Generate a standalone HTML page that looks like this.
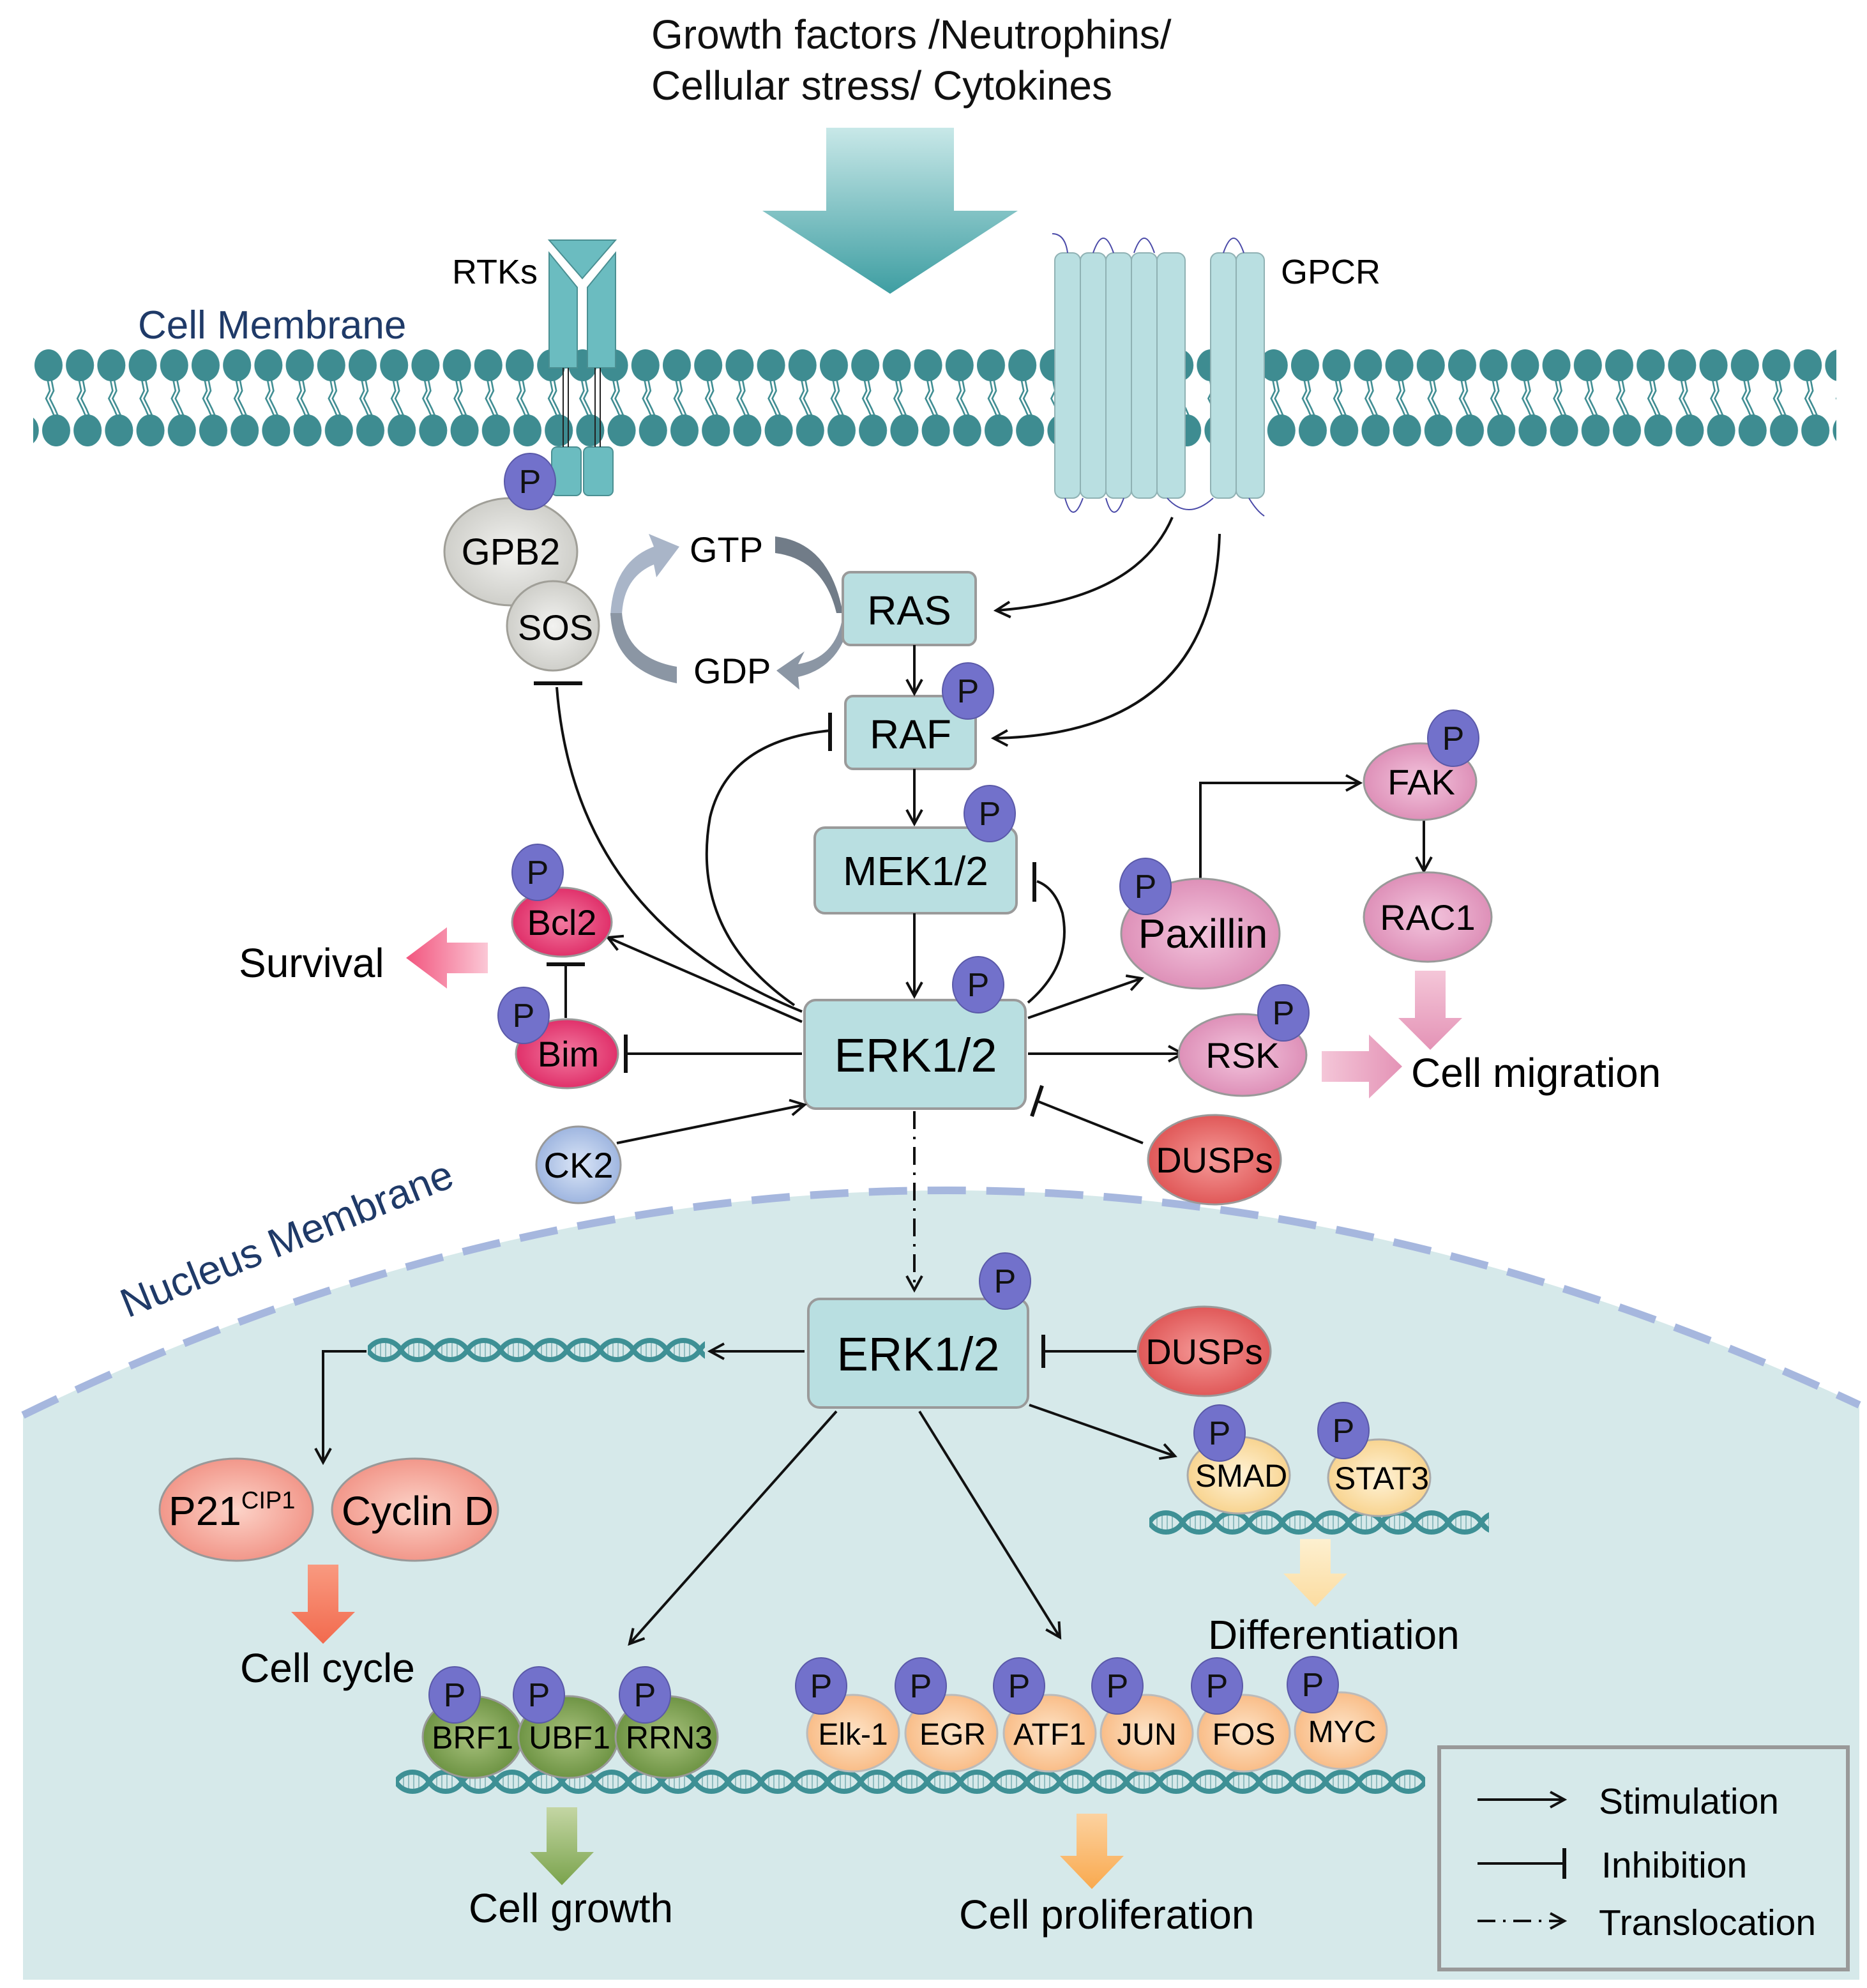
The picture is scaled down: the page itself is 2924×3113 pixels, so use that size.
<!DOCTYPE html>
<html><head><meta charset="utf-8"><style>html,body{margin:0;padding:0;background:#fff}svg{display:block}text{font-family:"Liberation Sans",sans-serif}</style></head>
<body>
<svg width="2924" height="3113" viewBox="0 0 1462 1556.5" xmlns="http://www.w3.org/2000/svg">
<defs>
<pattern id="lip" patternUnits="userSpaceOnUse" x="26" y="272" width="24.6" height="80">
<path d="M11 24 L13 34 L10 40 L14 48 L17 55 M14 24 L16 34 L13 40 L17 48 L20 55" fill="none" stroke="#3e8c91" stroke-width="1.3"/>
<ellipse cx="12" cy="14" rx="11" ry="12.5" fill="#3e8c91"/>
<ellipse cx="18" cy="65" rx="11" ry="12.5" fill="#3e8c91"/>
<ellipse cx="-6.6" cy="65" rx="11" ry="12.5" fill="#3e8c91"/>
</pattern>
<g id="dnaT">
<g stroke="#8fbcbf" stroke-width="1">
<line x1="6" y1="6" x2="6" y2="18"/><line x1="10" y1="5" x2="10" y2="19"/><line x1="14" y1="5" x2="14" y2="19"/><line x1="18" y1="6" x2="18" y2="18"/>
<line x1="32" y1="6" x2="32" y2="18"/><line x1="36" y1="5" x2="36" y2="19"/><line x1="40" y1="5" x2="40" y2="19"/><line x1="44" y1="6" x2="44" y2="18"/>
</g>
<path d="M0 12 C6 2 20 2 26 12 C32 22 46 22 52 12" fill="none" stroke="#3e9095" stroke-width="4"/>
<path d="M0 12 C6 22 20 22 26 12 C32 2 46 2 52 12" fill="none" stroke="#3e9095" stroke-width="4"/>
</g>
<pattern id="dna1" patternUnits="userSpaceOnUse" x="288" y="1045" width="52" height="24"><use href="#dnaT"/></pattern>
<pattern id="dna2" patternUnits="userSpaceOnUse" x="900" y="1180" width="52" height="24"><use href="#dnaT"/></pattern>
<pattern id="dna3" patternUnits="userSpaceOnUse" x="310" y="1383" width="52" height="24"><use href="#dnaT"/></pattern>
<linearGradient id="bigA" x1="0" y1="0" x2="0" y2="1"><stop offset="0" stop-color="#c8e8e8"/><stop offset="1" stop-color="#3e9ea2"/></linearGradient>
<radialGradient id="gray"><stop offset="0" stop-color="#f2f2f0"/><stop offset="1" stop-color="#cfcfca"/></radialGradient>
<radialGradient id="pink"><stop offset="0" stop-color="#f27aa0"/><stop offset="1" stop-color="#e0306a"/></radialGradient>
<radialGradient id="lpink"><stop offset="0" stop-color="#f3c6de"/><stop offset="1" stop-color="#de90b8"/></radialGradient>
<radialGradient id="red"><stop offset="0" stop-color="#f59a98"/><stop offset="1" stop-color="#e05858"/></radialGradient>
<radialGradient id="salm"><stop offset="0" stop-color="#fcd3c8"/><stop offset="1" stop-color="#f2978a"/></radialGradient>
<radialGradient id="yel"><stop offset="0" stop-color="#fff3d8"/><stop offset="1" stop-color="#f8d490"/></radialGradient>
<radialGradient id="peach"><stop offset="0" stop-color="#fde4c8"/><stop offset="1" stop-color="#f9bd88"/></radialGradient>
<radialGradient id="green"><stop offset="0" stop-color="#a9c27e"/><stop offset="1" stop-color="#6e9444"/></radialGradient>
<radialGradient id="blue"><stop offset="0" stop-color="#dbe6f7"/><stop offset="1" stop-color="#9fb6e0"/></radialGradient>
<linearGradient id="pinkA" x1="1" y1="0" x2="0" y2="0"><stop offset="0" stop-color="#fbc8d6"/><stop offset="1" stop-color="#f2557e"/></linearGradient>
<linearGradient id="pinkM" x1="0" y1="0" x2="1" y2="0"><stop offset="0" stop-color="#f4c6d8"/><stop offset="1" stop-color="#e493b6"/></linearGradient>
<linearGradient id="pinkD" x1="0" y1="0" x2="0" y2="1"><stop offset="0" stop-color="#f4c6d8"/><stop offset="1" stop-color="#e493b6"/></linearGradient>
<linearGradient id="oranA" x1="0" y1="0" x2="0" y2="1"><stop offset="0" stop-color="#f99a80"/><stop offset="1" stop-color="#f26a4e"/></linearGradient>
<linearGradient id="yelA" x1="0" y1="0" x2="0" y2="1"><stop offset="0" stop-color="#fdf0d0"/><stop offset="1" stop-color="#fcdca0"/></linearGradient>
<linearGradient id="grnA" x1="0" y1="0" x2="0" y2="1"><stop offset="0" stop-color="#c4d6a4"/><stop offset="1" stop-color="#7aa34c"/></linearGradient>
<linearGradient id="orA" x1="0" y1="0" x2="0" y2="1"><stop offset="0" stop-color="#fcd2a0"/><stop offset="1" stop-color="#f9a94e"/></linearGradient>
<marker id="ar" markerWidth="14" markerHeight="14" refX="12" refY="7" orient="auto" markerUnits="userSpaceOnUse"><path d="M1 1 L12 7 L1 13" fill="none" stroke="#111" stroke-width="2"/></marker>
</defs>

<!-- nucleus -->
<path d="M18 1108 Q730 760 1456 1100 L1456 1550 L18 1550 Z" fill="#d6e9ea"/>
<path d="M18 1108 Q730 760 1456 1100" fill="none" stroke="#a6b7de" stroke-width="6" stroke-dasharray="30 16"/>
<text x="0" y="0" font-size="32" fill="#1f3a68" transform="translate(100 1032) rotate(-22)">Nucleus Membrane</text>

<!-- title -->
<text x="510" y="38" font-size="32" fill="#111">Growth factors /Neutrophins/</text>
<text x="510" y="78" font-size="32" fill="#111">Cellular stress/ Cytokines</text>
<path d="M647 100 H747 V165 H797 L697 230 L597 165 H647 Z" fill="url(#bigA)"/>

<!-- membrane -->
<rect x="26" y="272" width="1412" height="80" fill="url(#lip)"/>
<text x="108" y="265" font-size="31" fill="#1f3a68">Cell Membrane</text>

<!-- RTK -->
<g fill="#6bbcc0" stroke="#4a8f92" stroke-width="1">
<path d="M430 188 H482 L456 218 Z"/>
<path d="M430 198 L452 225 V288 H430 Z"/>
<path d="M482 198 L460 225 V288 H482 Z"/>
<rect x="432" y="350" width="23" height="38" rx="4"/>
<rect x="457" y="350" width="23" height="38" rx="4"/>
</g>
<g stroke="#222" stroke-width="1"><line x1="441" y1="288" x2="441" y2="350"/><line x1="445" y1="288" x2="445" y2="350"/><line x1="466" y1="288" x2="466" y2="350"/><line x1="470" y1="288" x2="470" y2="350"/></g>
<text x="354" y="222" font-size="27">RTKs</text>

<!-- GPCR -->
<g fill="#b9dfe1" stroke="#8fb1b3" stroke-width="1">
<rect x="826" y="198" width="20" height="192" rx="6"/><rect x="846" y="198" width="20" height="192" rx="6"/><rect x="866" y="198" width="20" height="192" rx="6"/><rect x="886" y="198" width="20" height="192" rx="6"/><rect x="906" y="198" width="22" height="192" rx="6"/>
<rect x="948" y="198" width="20" height="192" rx="6"/><rect x="968" y="198" width="22" height="192" rx="6"/>
</g>
<g fill="none" stroke="#4a4aa8" stroke-width="1"><path d="M824 183 Q834 183 836 198"/><path d="M856 198 Q864 175 872 198"/><path d="M888 198 Q896 175 904 198"/><path d="M958 198 Q966 175 974 198"/><path d="M834 390 Q840 412 848 390"/><path d="M866 390 Q872 412 880 390"/><path d="M914 390 Q930 408 950 390"/><path d="M978 390 Q984 400 990 404"/></g>
<text x="1003" y="222" font-size="27">GPCR</text>

<!-- GPB2/SOS -->
<ellipse cx="400" cy="432" rx="52" ry="42" fill="url(#gray)" stroke="#a09f98" stroke-width="1.5"/>
<ellipse cx="433" cy="490" rx="36" ry="35" fill="url(#gray)" stroke="#a09f98" stroke-width="1.5"/>
<text x="400" y="442" font-size="29" text-anchor="middle">GPB2</text>
<text x="435" y="501" font-size="28" text-anchor="middle">SOS</text>

<!-- GTP cycle -->
<path d="M478 482 Q480 440 512 428 L508 418 L532 428 L514 452 L512 442 Q488 452 487 482 Z" fill="#a9b5c8"/>
<path d="M607 420 Q650 425 660 480 L655 480 Q645 438 607 433 Z" fill="#717c88"/>
<path d="M478 480 Q480 525 530 535 L530 522 Q490 515 487 480 Z" fill="#8b96a4"/>
<path d="M660 482 Q655 515 625 520 L630 510 L608 525 L626 540 L625 530 Q660 522 666 482 Z" fill="#8b96a4"/>
<text x="540" y="440" font-size="28">GTP</text>
<text x="543" y="535" font-size="28">GDP</text>

<!-- boxes -->
<g fill="#b9dfe1" stroke="#9a9a9a" stroke-width="2">
<rect x="660" y="448" width="104" height="57" rx="6"/>
<rect x="662" y="545" width="102" height="57" rx="6"/>
<rect x="638" y="648" width="158" height="67" rx="8"/>
<rect x="630" y="783" width="173" height="85" rx="9"/>
<rect x="633" y="1017" width="172" height="85" rx="9"/>
</g>
<text x="712" y="489" font-size="32" text-anchor="middle">RAS</text>
<text x="713" y="586" font-size="32" text-anchor="middle">RAF</text>
<text x="717" y="693" font-size="32" text-anchor="middle">MEK1/2</text>
<text x="717" y="839" font-size="37" text-anchor="middle">ERK1/2</text>
<text x="719" y="1073" font-size="37" text-anchor="middle">ERK1/2</text>

<!-- connectors -->
<g fill="none" stroke="#111" stroke-width="2">
<path d="M918 405 Q890 470 780 478" marker-end="url(#ar)"/>
<path d="M955 418 Q950 575 778 578" marker-end="url(#ar)"/>
<line x1="716" y1="505" x2="716" y2="543" marker-end="url(#ar)"/>
<line x1="716" y1="602" x2="716" y2="645" marker-end="url(#ar)"/>
<line x1="716" y1="715" x2="716" y2="780" marker-end="url(#ar)"/>
<path d="M628 792 Q450 720 436 538"/>
<line x1="418" y1="535" x2="456" y2="535" stroke-width="3"/>
<path d="M622 787 Q540 730 556 640 Q570 580 650 572"/>
<line x1="650" y1="558" x2="650" y2="588" stroke-width="3"/>
<path d="M805 785 Q840 755 832 715 Q826 695 812 690"/>
<line x1="810" y1="675" x2="810" y2="706" stroke-width="3"/>
<line x1="628" y1="800" x2="476" y2="734" marker-end="url(#ar)"/>
<line x1="628" y1="825" x2="490" y2="825"/><line x1="490" y1="810" x2="490" y2="840" stroke-width="3"/>
<line x1="443" y1="797" x2="443" y2="755"/><line x1="428" y1="755" x2="458" y2="755" stroke-width="3"/>
<line x1="483" y1="895" x2="630" y2="865" marker-end="url(#ar)"/>
<line x1="895" y1="895" x2="812" y2="862"/><line x1="816" y1="850" x2="808" y2="874" stroke-width="3"/>
<line x1="805" y1="797" x2="894" y2="766" marker-end="url(#ar)"/>
<path d="M940 688 V613 H1065" marker-end="url(#ar)"/>
<line x1="1115" y1="642" x2="1115" y2="682" marker-end="url(#ar)"/>
<line x1="805" y1="825" x2="926" y2="825" marker-end="url(#ar)"/>
<line x1="716" y1="870" x2="716" y2="1010" stroke-dasharray="14 6 2 6" marker-end="url(#ar)"/>
<line x1="630" y1="1058" x2="556" y2="1058" marker-end="url(#ar)"/>
<path d="M287 1058 H253 V1145" marker-end="url(#ar)"/>
<line x1="890" y1="1058" x2="817" y2="1058"/><line x1="817" y1="1045" x2="817" y2="1071" stroke-width="3"/>
<line x1="806" y1="1100" x2="920" y2="1140" marker-end="url(#ar)"/>
<line x1="655" y1="1105" x2="493" y2="1287" marker-end="url(#ar)"/>
<line x1="720" y1="1105" x2="830" y2="1282" marker-end="url(#ar)"/>
</g>

<!-- cytoplasm nodes -->
<ellipse cx="440" cy="722" rx="39" ry="27" fill="url(#pink)" stroke="#999" stroke-width="1.5"/>
<text x="440" y="732" font-size="28" text-anchor="middle">Bcl2</text>
<ellipse cx="444" cy="825" rx="40" ry="27" fill="url(#pink)" stroke="#999" stroke-width="1.5"/>
<text x="445" y="835" font-size="28" text-anchor="middle">Bim</text>
<path d="M382 738 H350 V726 L318 750 L350 774 V762 H382 Z" fill="url(#pinkA)"/>
<text x="187" y="765" font-size="32">Survival</text>
<ellipse cx="453" cy="912" rx="33" ry="30" fill="url(#blue)" stroke="#999" stroke-width="1.5"/>
<text x="453" y="922" font-size="28" text-anchor="middle">CK2</text>
<ellipse cx="951" cy="908" rx="52" ry="35" fill="url(#red)" stroke="#999" stroke-width="1.5"/>
<text x="951" y="918" font-size="28" text-anchor="middle">DUSPs</text>
<ellipse cx="940" cy="731" rx="62" ry="43" fill="url(#lpink)" stroke="#999" stroke-width="1.5"/>
<text x="942" y="742" font-size="32" text-anchor="middle">Paxillin</text>
<ellipse cx="1112" cy="612" rx="44" ry="30" fill="url(#lpink)" stroke="#999" stroke-width="1.5"/>
<text x="1113" y="622" font-size="28" text-anchor="middle">FAK</text>
<ellipse cx="1118" cy="718" rx="50" ry="35" fill="url(#lpink)" stroke="#999" stroke-width="1.5"/>
<text x="1118" y="728" font-size="28" text-anchor="middle">RAC1</text>
<path d="M1108 760 H1132 V797 H1145 L1120 822 L1095 797 H1108 Z" fill="url(#pinkD)"/>
<ellipse cx="973" cy="826" rx="50" ry="32" fill="url(#lpink)" stroke="#999" stroke-width="1.5"/>
<text x="973" y="836" font-size="28" text-anchor="middle">RSK</text>
<path d="M1035 823 H1072 V810 L1098 835 L1072 860 V847 H1035 Z" fill="url(#pinkM)"/>
<text x="1105" y="851" font-size="32">Cell migration</text>

<!-- nucleus content -->
<rect x="288" y="1045" width="264" height="24" fill="url(#dna1)"/>
<ellipse cx="943" cy="1058" rx="52" ry="35" fill="url(#red)" stroke="#999" stroke-width="1.5"/>
<text x="943" y="1068" font-size="28" text-anchor="middle">DUSPs</text>
<ellipse cx="185" cy="1182" rx="60" ry="40" fill="url(#salm)" stroke="#999" stroke-width="1.5"/>
<text x="132" y="1194" font-size="32">P21<tspan font-size="19" dy="-13">CIP1</tspan></text>
<ellipse cx="325" cy="1182" rx="65" ry="40" fill="url(#salm)" stroke="#999" stroke-width="1.5"/>
<text x="327" y="1194" font-size="32" text-anchor="middle">Cyclin D</text>
<path d="M241 1225 H265 V1262 H278 L253 1287 L228 1262 H241 Z" fill="url(#oranA)"/>
<text x="188" y="1317" font-size="32">Cell cycle</text>

<rect x="900" y="1180" width="266" height="24" fill="url(#dna2)"/>
<ellipse cx="970" cy="1155" rx="40" ry="30" fill="url(#yel)" stroke="#aaa" stroke-width="1.5"/>
<text x="972" y="1164" font-size="25" text-anchor="middle">SMAD</text>
<ellipse cx="1080" cy="1157" rx="40" ry="30" fill="url(#yel)" stroke="#aaa" stroke-width="1.5"/>
<text x="1082" y="1166" font-size="25" text-anchor="middle">STAT3</text>
<path d="M1018 1205 H1042 V1232 H1055 L1030 1258 L1005 1232 H1018 Z" fill="url(#yelA)"/>
<text x="946" y="1291" font-size="32">Differentiation</text>

<rect x="310" y="1383" width="806" height="24" fill="url(#dna3)"/>
<ellipse cx="370" cy="1360" rx="39" ry="32" fill="url(#green)" stroke="#999" stroke-width="1.5"/>
<ellipse cx="445" cy="1360" rx="39" ry="32" fill="url(#green)" stroke="#999" stroke-width="1.5"/>
<ellipse cx="522" cy="1360" rx="40" ry="32" fill="url(#green)" stroke="#999" stroke-width="1.5"/>
<g font-size="25" text-anchor="middle"><text x="370" y="1369">BRF1</text><text x="446" y="1369">UBF1</text><text x="524" y="1369">RRN3</text></g>
<g fill="url(#peach)" stroke="#bbb" stroke-width="1.5">
<ellipse cx="668" cy="1357" rx="36" ry="30"/><ellipse cx="745" cy="1357" rx="36" ry="30"/><ellipse cx="822" cy="1357" rx="36" ry="30"/><ellipse cx="898" cy="1357" rx="36" ry="30"/><ellipse cx="974" cy="1357" rx="36" ry="30"/><ellipse cx="1050" cy="1355" rx="36" ry="30"/>
</g>
<g font-size="24" text-anchor="middle"><text x="668" y="1366">Elk-1</text><text x="746" y="1366">EGR</text><text x="822" y="1366">ATF1</text><text x="898" y="1366">JUN</text><text x="974" y="1366">FOS</text><text x="1051" y="1364">MYC</text></g>
<path d="M428 1415 H452 V1450 H465 L440 1476 L415 1450 H428 Z" fill="url(#grnA)"/>
<text x="367" y="1505" font-size="32">Cell growth</text>
<path d="M843 1420 H867 V1453 H880 L855 1479 L830 1453 H843 Z" fill="url(#orA)"/>
<text x="751" y="1510" font-size="32">Cell proliferation</text>

<!-- P circles -->
<g fill="#7271cb" stroke="#5a59a8" stroke-width="1">
<ellipse cx="415" cy="377" rx="20" ry="22"/><ellipse cx="758" cy="541" rx="20" ry="22"/><ellipse cx="775" cy="637" rx="20" ry="22"/><ellipse cx="766" cy="771" rx="20" ry="22"/><ellipse cx="787" cy="1003" rx="20" ry="22"/>
<ellipse cx="421" cy="683" rx="20" ry="22"/><ellipse cx="410" cy="795" rx="20" ry="22"/><ellipse cx="897" cy="694" rx="20" ry="22"/><ellipse cx="1138" cy="578" rx="20" ry="22"/><ellipse cx="1005" cy="793" rx="20" ry="22"/>
<ellipse cx="955" cy="1122" rx="20" ry="22"/><ellipse cx="1052" cy="1120" rx="20" ry="22"/>
<ellipse cx="356" cy="1327" rx="20" ry="22"/><ellipse cx="422" cy="1327" rx="20" ry="22"/><ellipse cx="505" cy="1327" rx="20" ry="22"/>
<ellipse cx="643" cy="1320" rx="20" ry="22"/><ellipse cx="721" cy="1320" rx="20" ry="22"/><ellipse cx="798" cy="1320" rx="20" ry="22"/><ellipse cx="875" cy="1320" rx="20" ry="22"/><ellipse cx="953" cy="1320" rx="20" ry="22"/><ellipse cx="1028" cy="1319" rx="20" ry="22"/>
</g>
<g font-size="26" text-anchor="middle" fill="#111">
<text x="415" y="386">P</text><text x="758" y="550">P</text><text x="775" y="646">P</text><text x="766" y="780">P</text><text x="787" y="1012">P</text>
<text x="421" y="692">P</text><text x="410" y="804">P</text><text x="897" y="703">P</text><text x="1138" y="587">P</text><text x="1005" y="802">P</text>
<text x="955" y="1131">P</text><text x="1052" y="1129">P</text>
<text x="356" y="1336">P</text><text x="422" y="1336">P</text><text x="505" y="1336">P</text>
<text x="643" y="1329">P</text><text x="721" y="1329">P</text><text x="798" y="1329">P</text><text x="875" y="1329">P</text><text x="953" y="1329">P</text><text x="1028" y="1328">P</text>
</g>

<!-- legend -->
<rect x="1127" y="1368" width="320" height="174" fill="none" stroke="#999" stroke-width="3"/>
<g fill="none" stroke="#111" stroke-width="2">
<line x1="1157" y1="1409" x2="1225" y2="1409" marker-end="url(#ar)"/>
<line x1="1157" y1="1459" x2="1225" y2="1459"/><line x1="1225" y1="1447" x2="1225" y2="1471" stroke-width="3"/>
<line x1="1157" y1="1504" x2="1225" y2="1504" stroke-dasharray="14 6 2 6" marker-end="url(#ar)"/>
</g>
<g font-size="28.5"><text x="1252" y="1420">Stimulation</text><text x="1254" y="1470">Inhibition</text><text x="1252" y="1515">Translocation</text></g>
</svg>
</body></html>
